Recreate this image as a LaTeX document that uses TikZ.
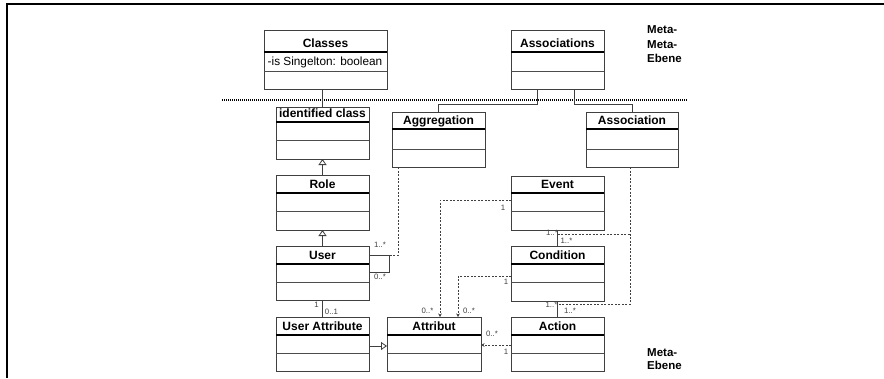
\documentclass[tikz,border=0pt]{standalone}
\usepackage{fontspec}
\setmainfont{Liberation Sans}
\usetikzlibrary{arrows.meta,calc}
\tikzset{
  clsbox/.style={draw=black!75, line width=0.8pt, rectangle, inner sep=0pt, outer sep=0pt, fill=white},
  titlerule/.style={draw=black, line width=1.3pt},
  comprule/.style={draw=black!70, line width=0.8pt},
  clstitle/.style={font=\fontsize{12}{13}\selectfont\bfseries, inner sep=0pt, anchor=base},
  clsattr/.style={font=\fontsize{11.8}{13}\selectfont, inner sep=0pt, anchor=base},
  conn/.style={draw=black!75, line width=0.8pt},
  gen/.style={conn, -{Triangle[open, length=6pt, width=8pt, fill=white]}},
  dconn/.style={draw=black!75, line width=0.7pt, dash pattern=on 2pt off 1.5pt},
  darr/.style={dconn, -{Stealth[length=3.5pt, width=3.5pt]}},
  mult/.style={font=\fontsize{7.8}{8}\selectfont, text=black!75, inner sep=0pt},
  metatext/.style={font=\fontsize{11.5}{13}\selectfont\bfseries, inner sep=0pt, anchor=base west},
  levelsep/.style={draw=black, line width=1.2pt, dash pattern=on 1pt off 1pt},
  framerule/.style={draw=black, line width=2pt},
}
% name, x1, y1, x2, y2, divider1, divider2, title
\newcommand\umlcls[8]{%
  \node[clsbox, minimum width={(#4-#2)*1pt}, minimum height={(#5-#3)*1pt}] (#1) at ({(#2+#4)/2},{(#3+#5)/2}) {};
  \draw[titlerule] (#2,#6) -- (#4,#6);
  \draw[comprule] (#2,#7) -- (#4,#7);
  \node[clstitle] (#1-title) at ({(#2+#4)/2},{#6-5}) {#8};
}
\begin{document}
\begin{tikzpicture}[x=1pt,y=-1pt]
\useasboundingbox (0,0) rectangle (884,378);
\fill[white] (0,0) rectangle (884,378);
% frame
\draw[framerule] (6.5,378) -- (6.5,4) -- (884,4);
% level separator
\draw[levelsep] (222,100) -- (688,100);

% classes
\umlcls{classes}{264}{30}{387}{89}{52}{71}{Classes}
\node[clsattr] (classes-attr) at (325,65) {-is Singelton: boolean};
\umlcls{assocs}{511}{30}{604}{89}{52}{71}{Associations}
\umlcls{idc}{276}{107}{369}{159}{122}{140}{identified class}
\umlcls{agg}{392}{112}{485}{167}{129}{149}{Aggregation}
\umlcls{asn}{586}{112}{678}{167}{129}{149}{Association}
\umlcls{role}{276}{175}{369}{230}{193}{211}{Role}
\umlcls{user}{276}{246}{369}{300}{264}{282}{User}
\umlcls{ua}{276}{317}{369}{371}{335}{353}{User Attribute}
\umlcls{attr}{387}{317}{481}{371}{335}{353}{Attribut}
\umlcls{ev}{511}{176}{604}{230}{193}{211}{Event}
\umlcls{cond}{511}{246}{604}{301}{264}{282}{Condition}
\umlcls{act}{511}{317}{604}{371}{335}{353}{Action}

% meta labels
\node[metatext] (m1) at (647,33.5) {Meta-};
\node[metatext] (m2) at (647,48) {Meta-};
\node[metatext] (m3) at (647,62.5) {Ebene};
\node[metatext] (m4) at (647,356) {Meta-};
\node[metatext] (m5) at (647,369) {Ebene};

% meta-meta connectors
\draw[conn] (idc.north) -- (idc.north |- classes.south);
\draw[conn] ([xshift=26pt]assocs.south west) |- ([yshift=8pt]agg.north) -- (agg.north);
\draw[conn] ([xshift=63pt]assocs.south west) |- ([yshift=8pt]asn.north) -- (asn.north);

% generalizations
\draw[gen] (role.north) -- (idc.south);
\draw[gen] (user.north) -- (role.south);
\draw[gen] ([yshift=-2pt]ua.east) -- ([yshift=-2pt]attr.west);

% user self association
\coordinate (loopTR) at ([xshift=20pt,yshift=-9pt]user.north east);
\draw[conn] ([yshift=-9pt]user.north east) -- (loopTR) |- ([yshift=-26pt]user.north east);
\draw[dconn] ([xshift=6pt]agg.south west) |- (loopTR);
\node[mult] (l1) at (380,244.5) {1..*};
\node[mult] (l2) at (380,276.5) {0..*};

% user - user attribute
\draw[conn] (user.south) -- (ua.north);
\node[mult] (l3) at (316.5,304.5) {1};
\node[mult] (l4) at (331.5,311.5) {0..1};

% event - condition - action
\draw[conn] (ev.south) -- (cond.north);
\draw[conn] (cond.south) -- (act.north);
\node[mult] (l5) at (552,233) {1..*};
\node[mult] (l6) at (566.5,240.5) {1..*};
\node[mult] (l7) at (551.5,305) {1..*};
\node[mult] (l8) at (570,310.5) {1..*};

% association class links
\coordinate (ec) at ($(ev.south)!0.25!(cond.north)$);
\coordinate (ca) at ($(cond.south)!0.19!(act.north)$);
\draw[dconn] ([xshift=-2pt]asn.south) |- (ca);
\draw[dconn] (ec) -- ([xshift=-2pt]asn.south |- ec);

% links to Attribut
\draw[darr] ([yshift=3pt]ev.west) -| ([xshift=53pt]attr.north west);
\draw[darr] ([yshift=-2.5pt]cond.west) -| ([xshift=71pt]attr.north west);
\draw[darr] ([yshift=-1pt]act.west) -- ([yshift=-1pt]attr.east);
\node[mult] (l9) at (503,208) {1};
\node[mult] (l10) at (427.5,310.5) {0..*};
\node[mult] (l11) at (506,281.5) {1};
\node[mult] (l12) at (469,310.5) {0..*};
\node[mult] (l13) at (492,333.5) {0..*};
\node[mult] (l14) at (506,352) {1};
\end{tikzpicture}
\end{document}
